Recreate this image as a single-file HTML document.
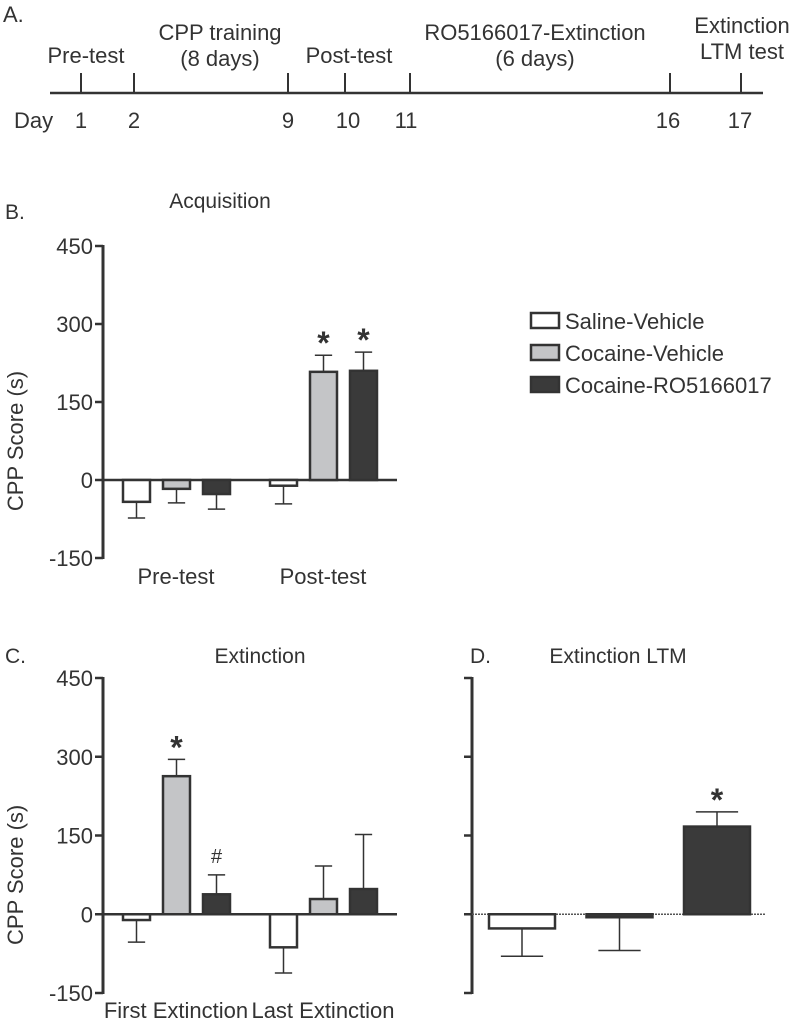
<!DOCTYPE html>
<html><head><meta charset="utf-8"><style>
body{margin:0;background:#fff}
svg text{font-family:"Liberation Sans",sans-serif;fill:#333}
</style></head><body>
<svg id="fig" width="800" height="1021" viewBox="0 0 800 1021" xmlns="http://www.w3.org/2000/svg">
<g font-size="22">
<text x="3" y="22">A.</text>
<line x1="50" y1="93" x2="763" y2="93" stroke="#333" stroke-width="2.5"/>
<g stroke="#333" stroke-width="2">
<line x1="81" y1="73" x2="81" y2="93"/><line x1="134" y1="73" x2="134" y2="93"/><line x1="288" y1="73" x2="288" y2="93"/><line x1="345" y1="73" x2="345" y2="93"/><line x1="410" y1="73" x2="410" y2="93"/><line x1="670" y1="73" x2="670" y2="93"/><line x1="741" y1="73" x2="741" y2="93"/>
</g>
<text x="86" y="63" text-anchor="middle">Pre-test</text>
<text x="220" y="40" text-anchor="middle">CPP training</text>
<text x="220" y="66" text-anchor="middle">(8 days)</text>
<text x="349" y="63" text-anchor="middle">Post-test</text>
<text x="535" y="40" text-anchor="middle">RO5166017-Extinction</text>
<text x="535" y="66" text-anchor="middle">(6 days)</text>
<text x="742" y="33" text-anchor="middle">Extinction</text>
<text x="742" y="59" text-anchor="middle">LTM test</text>
<g>
<text x="14" y="128">Day</text><text x="81" y="128" text-anchor="middle">1</text><text x="134" y="128" text-anchor="middle">2</text><text x="288" y="128" text-anchor="middle">9</text><text x="348" y="128" text-anchor="middle">10</text><text x="406" y="128" text-anchor="middle">11</text><text x="668" y="128" text-anchor="middle">16</text><text x="740" y="128" text-anchor="middle">17</text>
</g>
</g>
<g font-size="21">
<text x="5" y="219">B.</text>
<text x="220" y="208" text-anchor="middle">Acquisition</text>
<text x="5" y="663">C.</text>
<text x="260" y="663" text-anchor="middle">Extinction</text>
<text x="470" y="663">D.</text>
<text x="618" y="663" text-anchor="middle">Extinction LTM</text>
</g>
<g font-size="22">
<rect x="531" y="313" width="28" height="15" fill="#fff" stroke="#333" stroke-width="2.5"/><text x="565" y="329">Saline-Vehicle</text>
<rect x="531" y="345" width="28" height="15" fill="#c4c5c7" stroke="#333" stroke-width="2.5"/><text x="565" y="361">Cocaine-Vehicle</text>
<rect x="531" y="377" width="28" height="15" fill="#3a3a3a" stroke="#333" stroke-width="2.5"/><text x="565" y="393">Cocaine-RO5166017</text>
</g>
<g id="charts"></g>
</svg>
<script>
const ticks=[-150,0,150,300,450];
const bGroups=["Pre-test","Post-test"];
const bMeans=[[-42,-17,-27],[-11,208,210]];
const bErr=[[-73,-44,-56],[-46,240,246]];
const bMarks=[["","",""],["","*","*"]];
const cGroups=["First Extinction","Last Extinction"];
const cMeans=[[-11,263,38],[-63,29,48]];
const cErr=[[-53,295,75],[-112,92,152]];
const cMarks=[["","*","#"],["","",""]];
const dMeans=[-27,-2,167];
const dErr=[-80,-69,195];
const dMarks=["","","*"];
const fills=["#fff","#c4c5c7","#3a3a3a"];
const NS="http://www.w3.org/2000/svg";
const root=document.getElementById('charts');
function mk(t,a,p){const e=document.createElementNS(NS,t);for(const k in a)e.setAttribute(k,a[k]);(p||root).appendChild(e);return e;}
function axis(x0,y0,y1,labels,ylab){
  const y=v=>y0+(v-(-150))/(600)*(y1-y0);
  const g=mk('g',{});
  
  
  mk('line',{x1:x0,y1:y(-150)+1,x2:x0,y2:y(450)-1,stroke:'#333','stroke-width':3},g);
  ticks.forEach(t=>{mk('line',{x1:x0-8,y1:y(t),x2:x0,y2:y(t),stroke:'#333','stroke-width':2.5},g);
    if(labels){const tx=mk('text',{x:x0-10,y:y(t)+8,'text-anchor':'end','font-size':22},g);tx.textContent=t;
    
    }});
  if(ylab){const tl=mk('text',{x:0,y:0,'font-size':22,'text-anchor':'middle',transform:`translate(${x0-80},${y(75)}) rotate(-90)`},g);tl.textContent='CPP Score (s)';
  
  }
  return y;
}
function bar(x,w,v,e,fill,y,mark){
  const g=mk('g',{});
  
  
  const cx=x+w/2;
  const hw=Math.min(w*0.32,25);
  mk('line',{x1:cx,y1:y(v),x2:cx,y2:y(e),stroke:'#333','stroke-width':1.5},g);
  mk('line',{x1:cx-hw,y1:y(e),x2:cx+hw,y2:y(e),stroke:'#333','stroke-width':1.5},g);
  const top=Math.min(y(v),y(0)),h=Math.max(Math.abs(y(v)-y(0)),3);
  mk('rect',{x:x,y:top,width:w,height:h,fill:fill,stroke:'#333','stroke-width':2.5},g);
  if(mark){const t=mk('text',{x:cx,y:(mark=='*'?y(e)-1:y(e)-12),'text-anchor':'middle','font-size':mark=='*'?32:20,'font-weight':mark=='*'?'bold':'normal'},g);
    t.textContent=mark;
    
    }
}
function grouped(x0,y0,y1,groups,means,errs,marks,labY){
  const y=axis(x0,y0,y1,true,true);
  mk('line',{x1:x0,y1:y(0),x2:x0+294,y2:y(0),stroke:'#333','stroke-width':2.5});
  groups.forEach((gname,gi)=>{
    means[gi].forEach((v,i)=>bar(x0+20+gi*147+i*40,27,v,errs[gi][i],fills[i],y,marks[gi][i]));
    const t=mk('text',{x:x0+20+gi*147+53,y:labY,'text-anchor':'middle','font-size':22});
    t.textContent=gname;
    
    
  });
}
grouped(103,558,246,bGroups,bMeans,bErr,bMarks,584);
grouped(103,993,678,cGroups,cMeans,cErr,cMarks,1018);
const yd=axis(472,993,678,false,false);
mk('line',{x1:472,y1:yd(0),x2:766,y2:yd(0),stroke:'#555','stroke-width':1.5,'stroke-dasharray':'2,1'});
dMeans.forEach((v,i)=>bar(489+i*97.5,66,v,dErr[i],fills[i]==='#c4c5c7'?'#3a3a3a':fills[i],yd,dMarks[i]));
</script>
</body></html>
